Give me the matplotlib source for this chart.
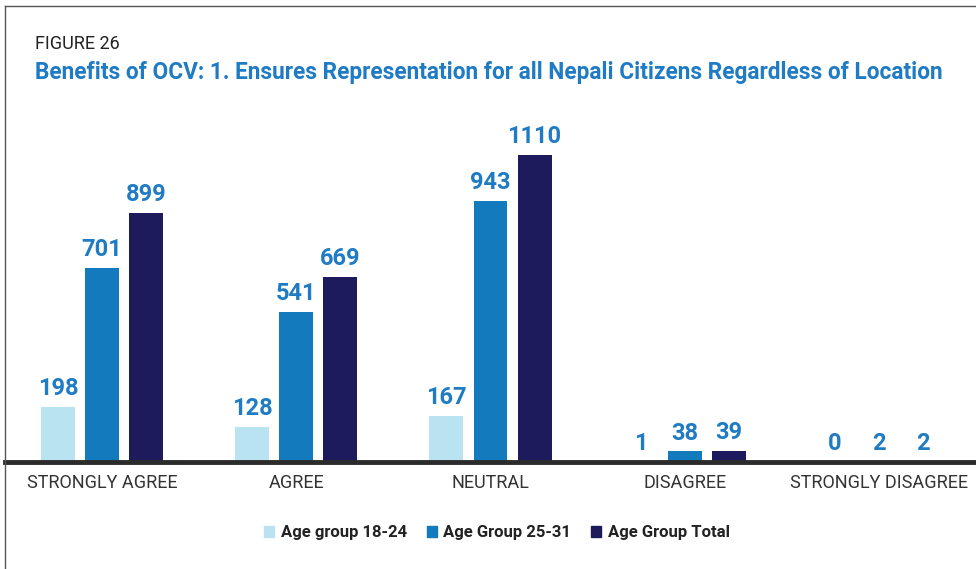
import matplotlib
matplotlib.use("Agg")
import matplotlib.pyplot as plt
from matplotlib.lines import Line2D
import numpy as np

categories = ["STRONGLY AGREE", "AGREE", "NEUTRAL", "DISAGREE", "STRONGLY DISAGREE"]
series_names = ["Age group 18-24", "Age Group 25-31", "Age Group Total"]
age_18_24 = [198, 128, 167, 1, 0]
age_25_31 = [701, 541, 943, 38, 2]
age_total = [899, 669, 1110, 39, 2]

colors = ["#b9e3f0", "#137abd", "#1d1b5b"]
label_color = "#1f7bc4"
font = "Roboto"

W, H = 976, 569
fig = plt.figure(figsize=(W / 100, H / 100), dpi=100)

# axes placed in pixel coordinates: baseline at y=462, spanning x=5..976
ax_left, ax_right = 5, 976
ax_bottom, ax_top = 462, 100
ax = fig.add_axes([ax_left / W, 1 - ax_bottom / H,
                   (ax_right - ax_left) / W, (ax_bottom - ax_top) / H])

x = np.arange(len(categories))
width = 0.175
step = 0.227
for i, (vals, col) in enumerate(zip([age_18_24, age_25_31, age_total], colors)):
    pos = x + (i - 1) * step
    ax.bar(pos, vals, width=width, color=col, label=series_names[i], zorder=2)
    for p, v in zip(pos, vals):
        ax.annotate(str(v), (p, v), xytext=(0, 5), textcoords="offset points",
                    ha="center", va="bottom", fontsize=17, fontweight="bold",
                    color=label_color, family=font)

ax.set_xlim(-0.5, 4.5)
ax.set_ylim(0, (ax_bottom - ax_top) / 0.2766)
for s in ["top", "right", "left"]:
    ax.spines[s].set_visible(False)
ax.spines["bottom"].set_linewidth(3.5)
ax.spines["bottom"].set_color("#2b2b2b")
ax.spines["bottom"].set_zorder(3)
ax.set_yticks([])
ax.set_xticks(x)
ax.set_xticklabels(categories, fontsize=13, color="#333333", family=font)
ax.tick_params(axis="x", length=0, pad=9)

# figure frame on the left and top
fig.add_artist(Line2D([5 / W, 5 / W], [0, 1 - 6 / H], color="#555555", lw=1))
fig.add_artist(Line2D([5 / W, 1], [1 - 6 / H, 1 - 6 / H], color="#555555", lw=1))

fig.text(35 / W, 1 - 44 / H, "FIGURE 26", fontsize=13, color="#222222",
         va="center", ha="left", family=font)
fig.text(35 / W, 1 - 72 / H,
         "Benefits of OCV: 1. Ensures Representation for all Nepali Citizens Regardless of Location",
         fontsize=16.3, fontweight="bold", color="#1f7bc4", va="center", ha="left", family=font)

handles = [plt.Rectangle((0, 0), 1, 1, color=c) for c in colors]
leg = fig.legend(handles, series_names, loc="center", bbox_to_anchor=(497 / W, 1 - 533 / H),
                 ncol=3, frameon=False, handlelength=0.6, handleheight=0.6,
                 handletextpad=0.4, columnspacing=1.2,
                 prop={"family": font, "weight": "bold", "size": 12})
for t in leg.get_texts():
    t.set_color("#222222")

fig.savefig("out.png", dpi=100)
